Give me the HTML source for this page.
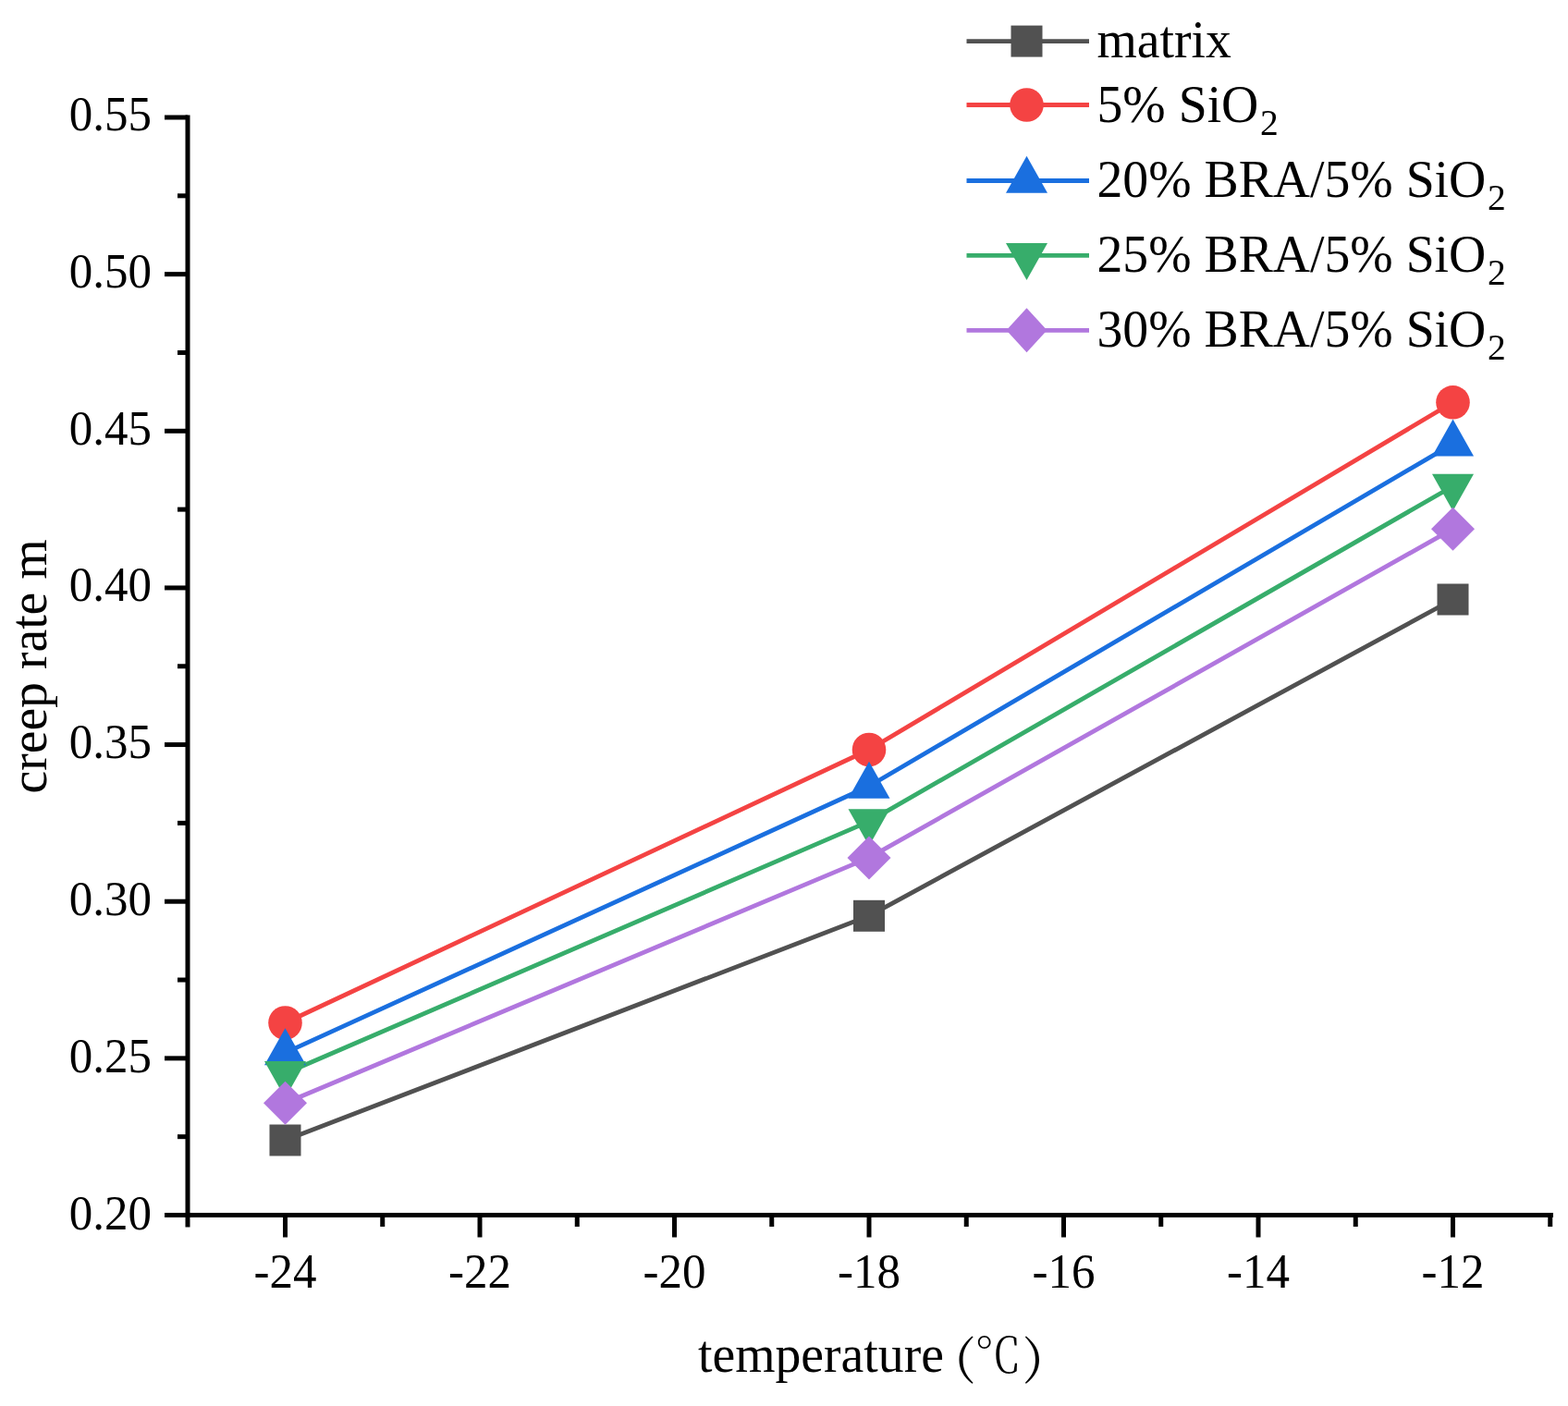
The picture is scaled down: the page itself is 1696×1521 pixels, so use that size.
<!DOCTYPE html><html><head><meta charset="utf-8"><title>creep rate m vs temperature</title><style>
html,body{margin:0;padding:0;background:#fff;}body{width:1696px;height:1521px;overflow:hidden;}
svg{display:block;}text{font-family:"Liberation Serif","Noto Serif CJK SC",serif;fill:#000;}
.cjk{font-family:"Noto Serif CJK SC","Liberation Serif",serif;}
</style></head><body>
<svg width="1696" height="1521" viewBox="0 0 1696 1521">
<rect width="1696" height="1521" fill="#fff"/>
<g stroke="#000" stroke-width="5.0" fill="none" stroke-linecap="butt">
<path d="M203,124.5 V1327.5"/>
<path d="M200.5,1314.5 H1680"/>
<path d="M178,1314.50 H203"/>
<path d="M178,1144.86 H203"/>
<path d="M178,975.21 H203"/>
<path d="M178,805.57 H203"/>
<path d="M178,635.93 H203"/>
<path d="M178,466.28 H203"/>
<path d="M178,296.64 H203"/>
<path d="M178,127.00 H203"/>
<path d="M192,1229.68 H203"/>
<path d="M192,1060.04 H203"/>
<path d="M192,890.39 H203"/>
<path d="M192,720.75 H203"/>
<path d="M192,551.11 H203"/>
<path d="M192,381.46 H203"/>
<path d="M192,211.82 H203"/>
<path d="M308.50,1314.5 V1338.5"/>
<path d="M519.00,1314.5 V1338.5"/>
<path d="M729.50,1314.5 V1338.5"/>
<path d="M940.00,1314.5 V1338.5"/>
<path d="M1150.50,1314.5 V1338.5"/>
<path d="M1361.00,1314.5 V1338.5"/>
<path d="M1571.50,1314.5 V1338.5"/>
<path d="M413.75,1314.5 V1327"/>
<path d="M624.25,1314.5 V1327"/>
<path d="M834.75,1314.5 V1327"/>
<path d="M1045.25,1314.5 V1327"/>
<path d="M1255.75,1314.5 V1327"/>
<path d="M1466.25,1314.5 V1327"/>
<path d="M1676.75,1314.5 V1327"/>
</g>
<g font-size="51.0">
<text text-anchor="end" transform="translate(163.9,1329.75) scale(1,1.03)">0.20</text>
<text text-anchor="end" transform="translate(163.9,1159.93) scale(1,1.03)">0.25</text>
<text text-anchor="end" transform="translate(163.9,990.11) scale(1,1.03)">0.30</text>
<text text-anchor="end" transform="translate(163.9,820.29) scale(1,1.03)">0.35</text>
<text text-anchor="end" transform="translate(163.9,650.47) scale(1,1.03)">0.40</text>
<text text-anchor="end" transform="translate(163.9,480.65) scale(1,1.03)">0.45</text>
<text text-anchor="end" transform="translate(163.9,310.83) scale(1,1.03)">0.50</text>
<text text-anchor="end" transform="translate(163.9,141.01) scale(1,1.03)">0.55</text>
<text text-anchor="middle" transform="translate(308.50,1392.5) scale(1,1.03)">-24</text>
<text text-anchor="middle" transform="translate(519.00,1392.5) scale(1,1.03)">-22</text>
<text text-anchor="middle" transform="translate(729.50,1392.5) scale(1,1.03)">-20</text>
<text text-anchor="middle" transform="translate(940.00,1392.5) scale(1,1.03)">-18</text>
<text text-anchor="middle" transform="translate(1150.50,1392.5) scale(1,1.03)">-16</text>
<text text-anchor="middle" transform="translate(1361.00,1392.5) scale(1,1.03)">-14</text>
<text text-anchor="middle" transform="translate(1571.50,1392.5) scale(1,1.03)">-12</text>
</g>
<text font-size="55.7" text-anchor="middle" transform="translate(49.6,721) rotate(-90) scale(1,1.03)">creep rate m</text>
<text font-size="55.7" transform="translate(755,1484.2) scale(1,1.03)">temperature</text>
<text class="cjk" font-size="49.5" font-weight="300" transform="translate(1031.5,1485.5) scale(1.3,1)">(</text>
<text class="cjk" font-size="52" font-weight="300" transform="translate(1054,1485) scale(0.98,1)">℃</text>
<text class="cjk" font-size="49.5" font-weight="300" transform="translate(1107.0,1485.5) scale(1.3,1)">)</text>
<polyline points="308.50,1233.50 940.00,990.80 1571.50,648.50" fill="none" stroke="#515151" stroke-width="4.8" stroke-linejoin="round"/>
<polyline points="308.50,1106.50 940.00,811.00 1571.50,435.30" fill="none" stroke="#F44343" stroke-width="4.8" stroke-linejoin="round"/>
<polyline points="308.50,1138.90 940.00,850.50 1571.50,480.10" fill="none" stroke="#1A6FDF" stroke-width="4.8" stroke-linejoin="round"/>
<polyline points="308.50,1161.30 940.00,888.60 1571.50,526.00" fill="none" stroke="#37AD6B" stroke-width="4.8" stroke-linejoin="round"/>
<polyline points="308.50,1193.30 940.00,927.90 1571.50,572.20" fill="none" stroke="#B177DE" stroke-width="4.8" stroke-linejoin="round"/>
<rect x="291.50" y="1216.50" width="34.0" height="34.0" fill="#515151"/>
<rect x="923.00" y="973.80" width="34.0" height="34.0" fill="#515151"/>
<rect x="1554.50" y="631.50" width="34.0" height="34.0" fill="#515151"/>
<circle cx="308.50" cy="1106.50" r="18.3" fill="#F44343"/>
<circle cx="940.00" cy="811.00" r="18.3" fill="#F44343"/>
<circle cx="1571.50" cy="435.30" r="18.3" fill="#F44343"/>
<polygon points="308.50,1112.23 331.00,1152.23 286.00,1152.23" fill="#1A6FDF"/>
<polygon points="940.00,823.83 962.50,863.83 917.50,863.83" fill="#1A6FDF"/>
<polygon points="1571.50,453.43 1594.00,493.43 1549.00,493.43" fill="#1A6FDF"/>
<polygon points="308.50,1187.97 331.00,1147.97 286.00,1147.97" fill="#37AD6B"/>
<polygon points="940.00,915.27 962.50,875.27 917.50,875.27" fill="#37AD6B"/>
<polygon points="1571.50,552.67 1594.00,512.67 1549.00,512.67" fill="#37AD6B"/>
<polygon points="308.50,1169.80 332.00,1193.30 308.50,1216.80 285.00,1193.30" fill="#B177DE"/>
<polygon points="940.00,904.40 963.50,927.90 940.00,951.40 916.50,927.90" fill="#B177DE"/>
<polygon points="1571.50,548.70 1595.00,572.20 1571.50,595.70 1548.00,572.20" fill="#B177DE"/>
<path d="M1045.5,44.6 H1178" stroke="#515151" stroke-width="4.8"/>
<rect x="1093.50" y="27.60" width="34.0" height="34.0" fill="#515151"/>
<text font-size="55.7" transform="translate(1186.5,62.3) scale(1,1.03)">matrix</text>
<path d="M1045.5,113.5 H1178" stroke="#F44343" stroke-width="4.8"/>
<circle cx="1110.50" cy="113.50" r="18.3" fill="#F44343"/>
<text font-size="55.7" transform="translate(1186.5,132.4) scale(1,1.03)">5% SiO<tspan font-size="39.5" dx="1.8" dy="13.6">2</tspan></text>
<path d="M1045.5,195.5 H1178" stroke="#1A6FDF" stroke-width="4.8"/>
<polygon points="1110.50,168.83 1133.00,208.83 1088.00,208.83" fill="#1A6FDF"/>
<text font-size="55.7" transform="translate(1186.5,213.2) scale(1,1.03)">20% BRA/5% SiO<tspan font-size="39.5" dx="1.8" dy="13.6">2</tspan></text>
<path d="M1045.5,276.4 H1178" stroke="#37AD6B" stroke-width="4.8"/>
<polygon points="1110.50,303.07 1133.00,263.07 1088.00,263.07" fill="#37AD6B"/>
<text font-size="55.7" transform="translate(1186.5,294.0) scale(1,1.03)">25% BRA/5% SiO<tspan font-size="39.5" dx="1.8" dy="13.6">2</tspan></text>
<path d="M1045.5,357.3 H1178" stroke="#B177DE" stroke-width="4.8"/>
<polygon points="1110.5,333.3 1132.5,357.3 1110.5,381.3 1088.5,357.3" fill="#B177DE"/>
<text font-size="55.7" transform="translate(1186.5,375.4) scale(1,1.03)">30% BRA/5% SiO<tspan font-size="39.5" dx="1.8" dy="13.6">2</tspan></text>
</svg></body></html>
